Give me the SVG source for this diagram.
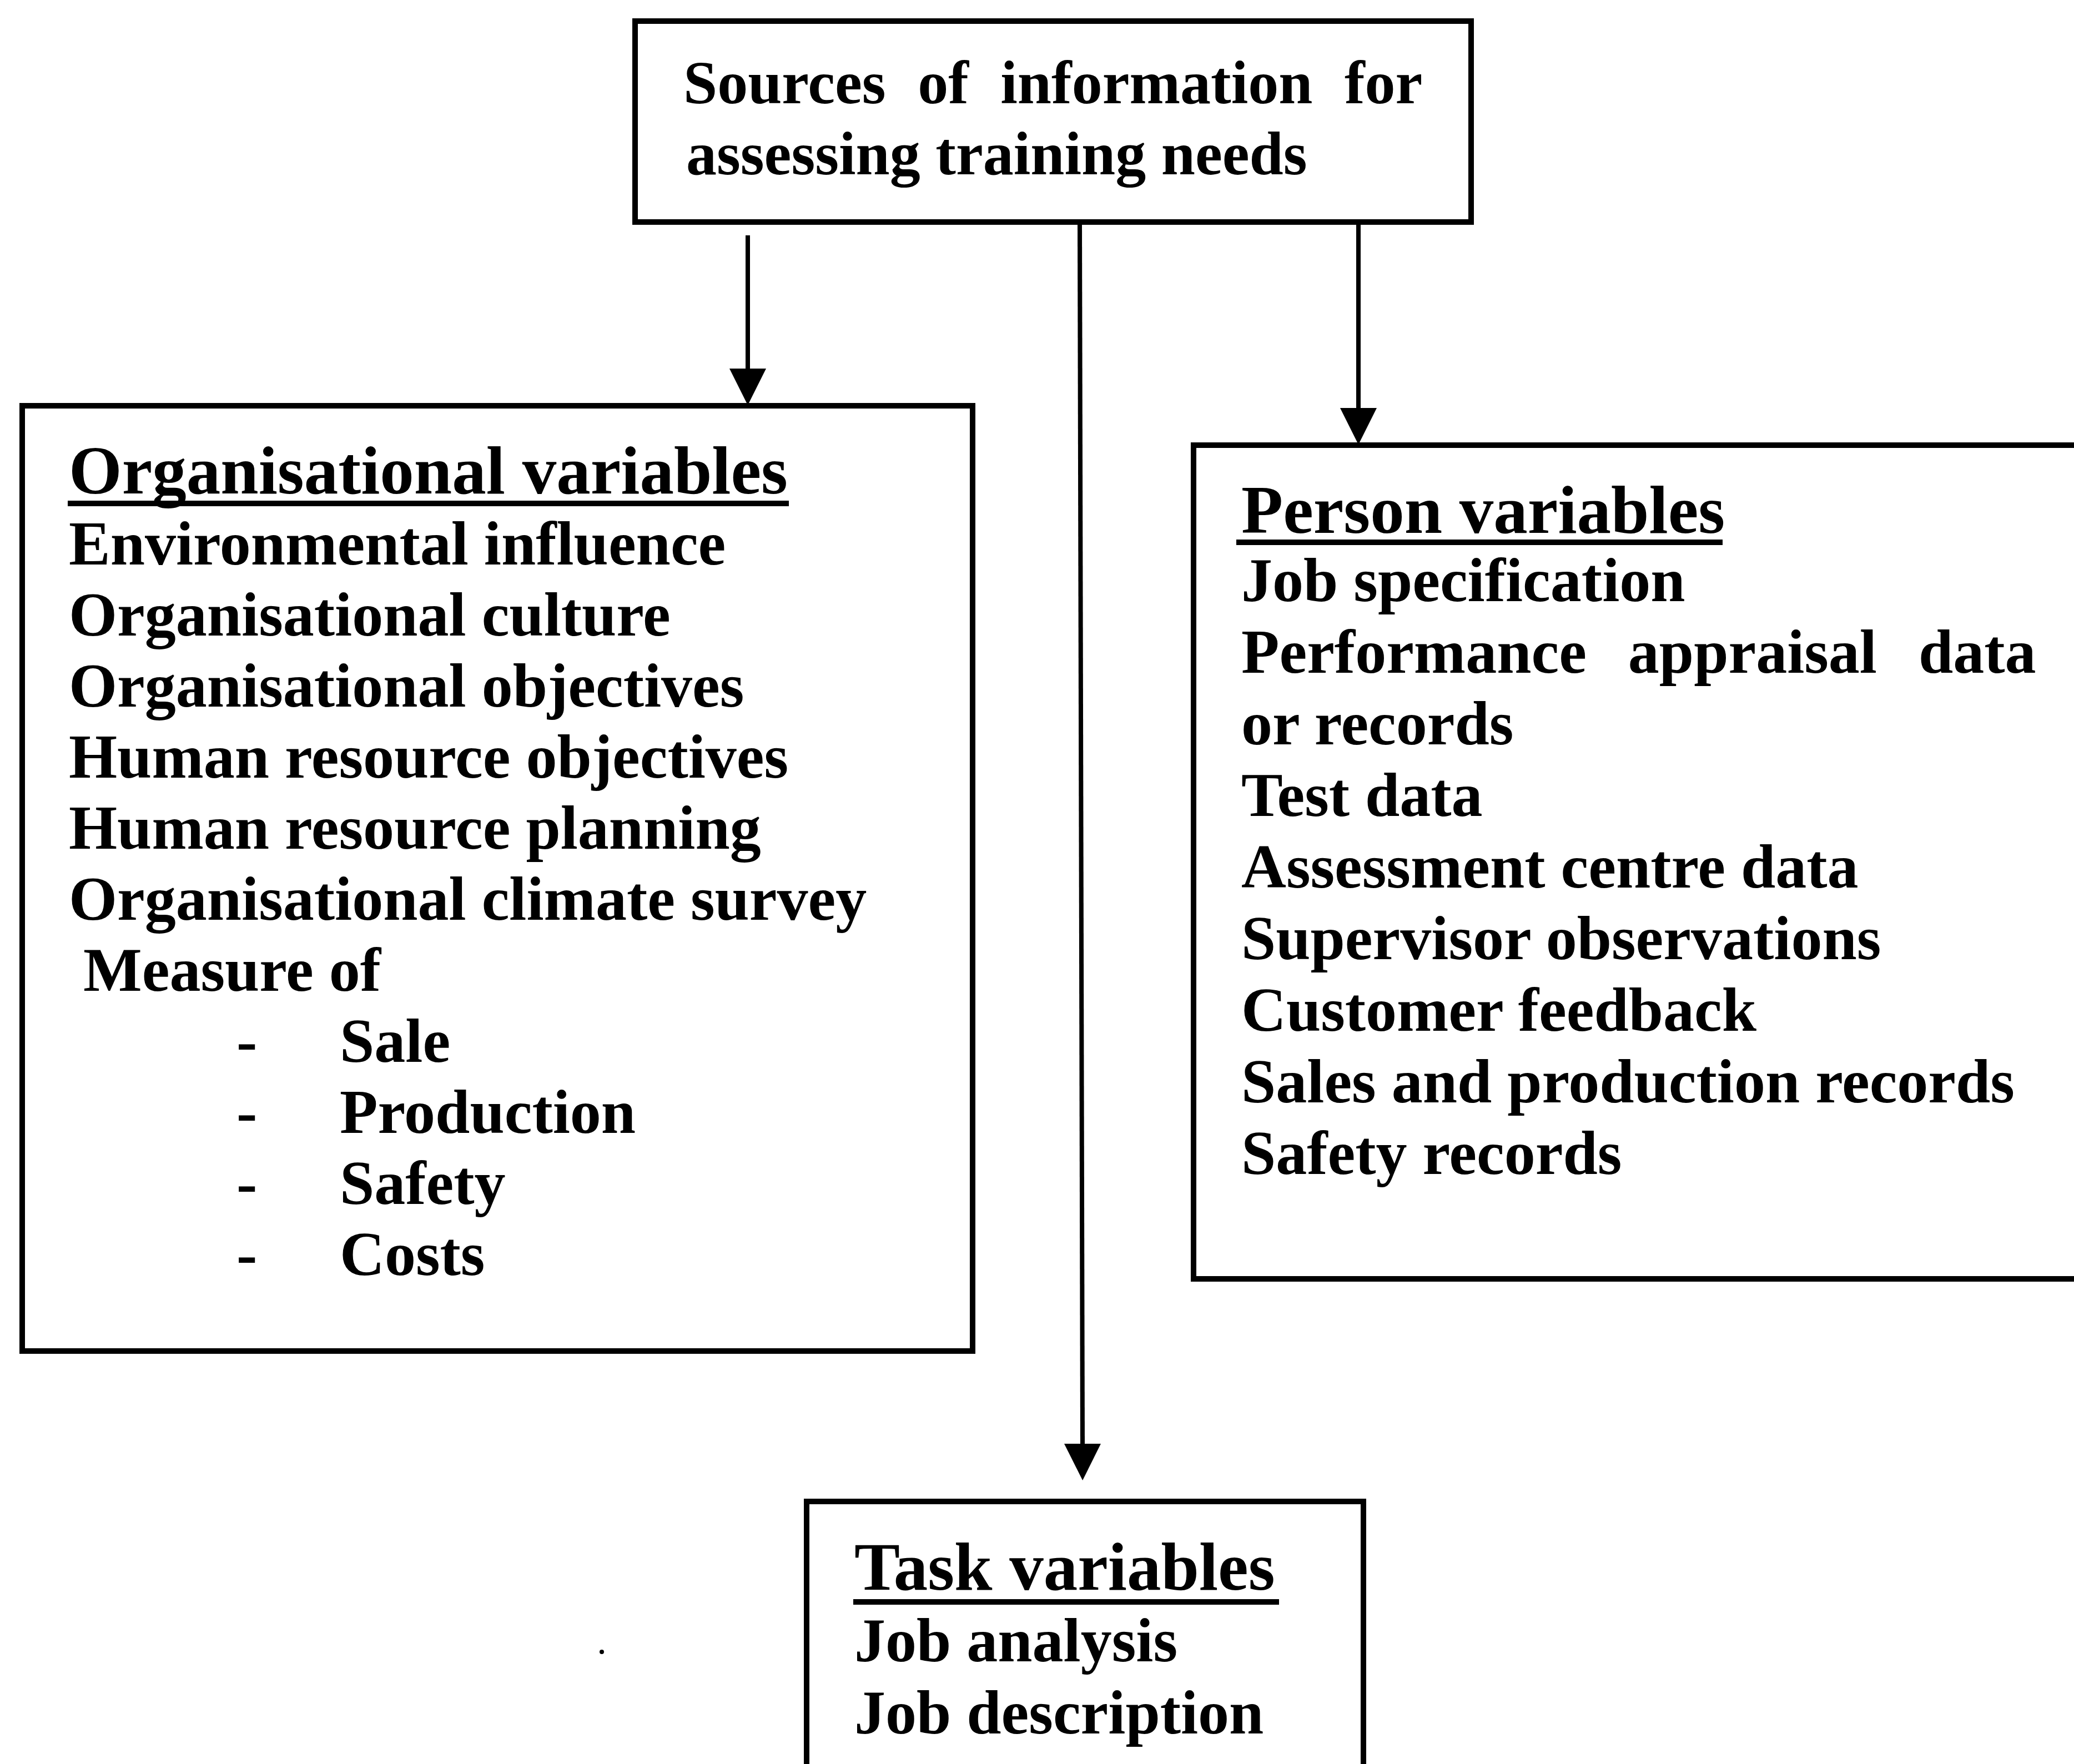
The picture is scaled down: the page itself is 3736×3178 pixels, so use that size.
<svg xmlns="http://www.w3.org/2000/svg" width="3736" height="3178" viewBox="0 0 3736 3178">
<style>
.box{fill:none;stroke:#000;stroke-width:10}
.t{font-family:"Liberation Serif","Times New Roman",serif;font-weight:bold;fill:#000;font-size:112px}
.h{font-size:123px}
.top{font-size:110px}
.ul{stroke:#000;stroke-width:10}
.con{stroke:#000;stroke-width:8;fill:none}
</style>
<defs>
<marker id="ah" markerUnits="userSpaceOnUse" viewBox="0 0 66 66" refX="0" refY="33" markerWidth="66" markerHeight="66" orient="auto">
<path d="M0,0 L66,33 L0,66 z" fill="#000"/>
</marker>
</defs>
<rect width="3736" height="3178" fill="#fff"/>
<g id="connectors">
<line class="con" x1="1347" y1="424" x2="1347" y2="664" marker-end="url(#ah)"/>
<line class="con" x1="2447" y1="400" x2="2447" y2="735" marker-end="url(#ah)"/>
<line class="con" x1="1945" y1="400" x2="1950" y2="2601" marker-end="url(#ah)"/>
</g>
<g id="sources">
<rect class="box" x="1144" y="38" width="1506" height="362"/>
<text class="t top" x="1231" y="186" word-spacing="30">Sources of information for</text>
<text class="t top" x="1236" y="314">assessing training needs</text>
</g>
<g id="organisational">
<rect class="box" x="40" y="731" width="1712" height="1703"/>
<text class="t h" x="124" y="889">Organisational variables</text>
<line class="ul" x1="122" y1="907" x2="1421" y2="907"/>
<text class="t" x="124" y="1017">Environmental influence</text>
<text class="t" x="124" y="1145">Organisational culture</text>
<text class="t" x="124" y="1273">Organisational objectives</text>
<text class="t" x="124" y="1401">Human resource objectives</text>
<text class="t" x="124" y="1529">Human resource planning</text>
<text class="t" x="124" y="1657">Organisational climate survey</text>
<text class="t" x="150" y="1785">Measure of</text>
<text class="t" x="426" y="1913">-</text>
<text class="t" x="612" y="1913">Sale</text>
<text class="t" x="426" y="2041">-</text>
<text class="t" x="612" y="2041">Production</text>
<text class="t" x="426" y="2169">-</text>
<text class="t" x="612" y="2169">Safety</text>
<text class="t" x="426" y="2297">-</text>
<text class="t" x="612" y="2297">Costs</text>
</g>
<g id="person">
<rect class="box" x="2150" y="802" width="1700" height="1502"/>
<text class="t h" x="2236" y="960">Person variables</text>
<line class="ul" x1="2227" y1="977" x2="3103" y2="977"/>
<text class="t" x="2236" y="1083">Job specification</text>
<text class="t" x="2236" y="1212" word-spacing="47">Performance appraisal data</text>
<text class="t" x="2236" y="1341">or records</text>
<text class="t" x="2236" y="1470">Test data</text>
<text class="t" x="2236" y="1599">Assessment centre data</text>
<text class="t" x="2236" y="1728">Supervisor observations</text>
<text class="t" x="2236" y="1857">Customer feedback</text>
<text class="t" x="2236" y="1986">Sales and production records</text>
<text class="t" x="2236" y="2115">Safety records</text>
</g>
<g id="task">
<rect class="box" x="1453" y="2705" width="1003" height="600"/>
<text class="t h" x="1539" y="2864">Task variables</text>
<line class="ul" x1="1537" y1="2886" x2="2304" y2="2886"/>
<text class="t" x="1539" y="2993">Job analysis</text>
<text class="t" x="1539" y="3123">Job description</text>
</g>
<circle cx="1084" cy="2976" r="4" fill="#000"/>
</svg>
